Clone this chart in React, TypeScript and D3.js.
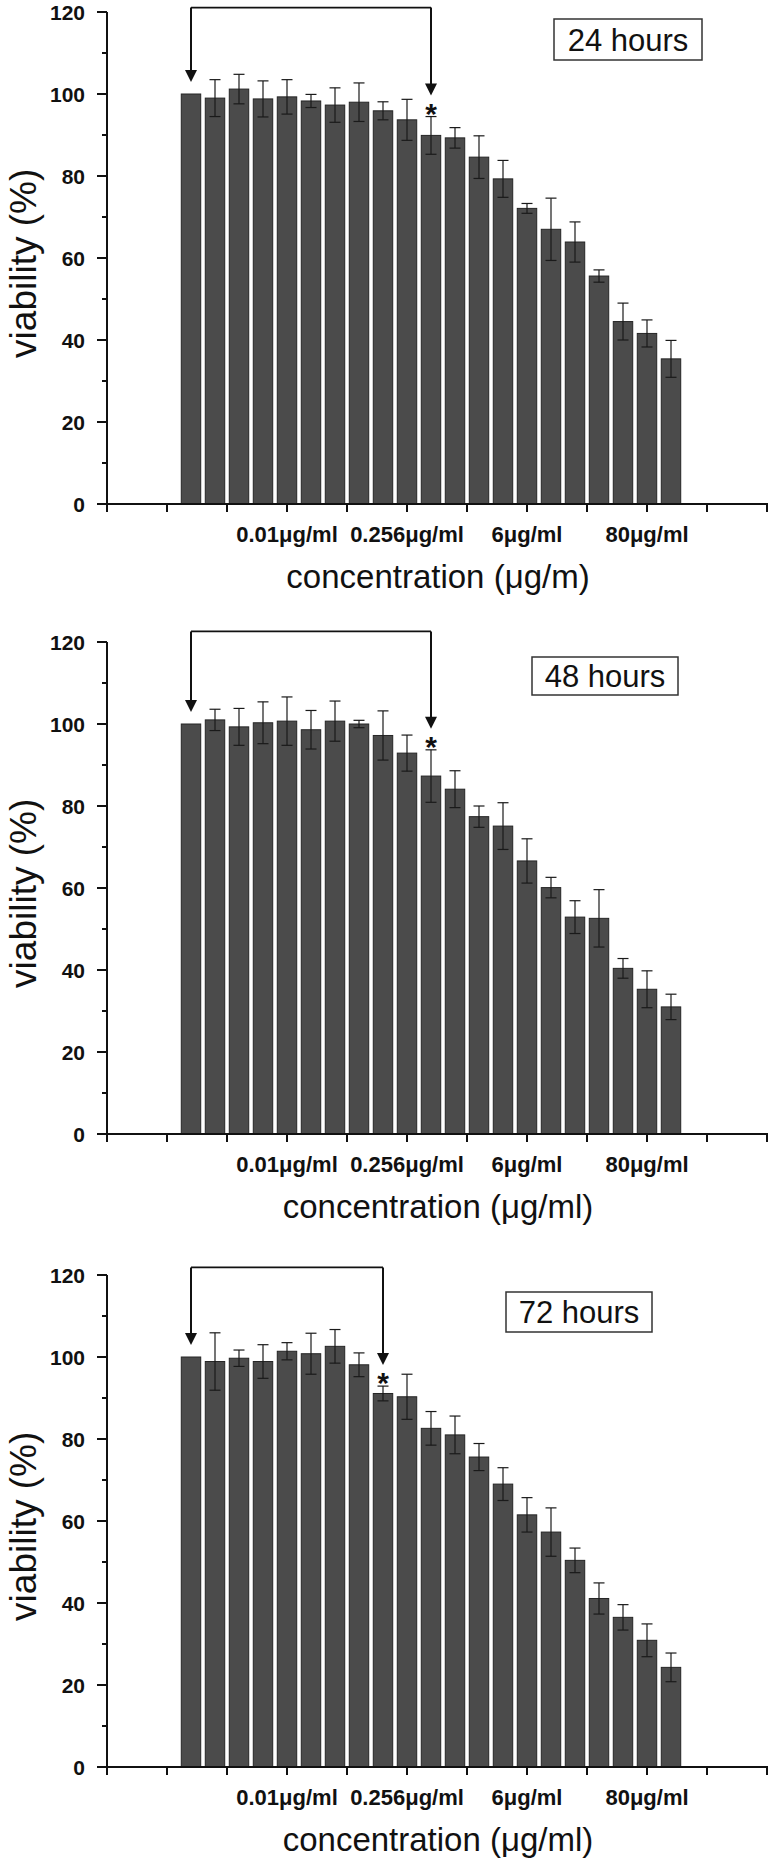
import React from 'react';
import * as d3 from 'd3';

// ---------- DATA ----------
const CATEGORIES = ['1','2','3','4','5','6','7','8','9','10','11','12','13','14','15','16','17','18','19','20','21'];

const VIABILITY_24 = [100, 99.0, 101.2, 98.8, 99.3, 98.3, 97.3, 98.0, 95.9, 93.7, 89.9, 89.3, 84.6, 79.3, 72.1, 67.0, 63.9, 55.6, 44.5, 41.6, 35.4];
const ERR_24 = [0, 4.5, 3.6, 4.4, 4.2, 1.6, 4.2, 4.7, 2.2, 5.0, 4.6, 2.5, 5.2, 4.5, 1.2, 7.6, 4.9, 1.5, 4.5, 3.3, 4.5];

const VIABILITY_48 = [100, 101.0, 99.3, 100.3, 100.7, 98.6, 100.7, 100.0, 97.2, 92.9, 87.3, 84.1, 77.4, 75.1, 66.6, 60.1, 52.9, 52.6, 40.4, 35.3, 31.0];
const ERR_48 = [0, 2.6, 4.5, 5.1, 5.9, 4.7, 4.9, 0.9, 6.0, 4.4, 6.4, 4.5, 2.6, 5.7, 5.4, 2.5, 4.0, 7.0, 2.4, 4.5, 3.1];

const VIABILITY_72 = [100, 98.9, 99.7, 98.9, 101.4, 100.8, 102.6, 98.1, 91.1, 90.3, 82.6, 81.0, 75.6, 69.0, 61.5, 57.3, 50.4, 41.1, 36.5, 30.9, 24.3];
const ERR_72 = [0, 7.0, 2.0, 4.1, 2.1, 5.0, 4.1, 2.9, 1.8, 5.5, 4.1, 4.6, 3.3, 4.0, 4.2, 5.9, 3.0, 3.8, 3.1, 4.0, 3.5];

const Y_TICKS_MAJOR = [0, 20, 40, 60, 80, 100, 120];
const Y_TICKS_MINOR = [10, 30, 50, 70, 90, 110];
const X_TICKS = [0, 1, 2, 3, 4, 5, 6, 7, 8, 9, 10, 11];
const X_LABEL_POS = [3, 5, 7, 9];
const X_LABEL_TEXT = ['0.01μg/ml', '0.256μg/ml', '6μg/ml', '80μg/ml'];

const PANEL_TITLES = ['24 hours', '48 hours', '72 hours'];
const X_TITLES = ['concentration (μg/m)', 'concentration (μg/ml)', 'concentration (μg/ml)'];
const SIG_INDEX = [10, 10, 8];

// ---------- LAYOUT ----------
const W = 774;
const H = 1861;
const AXIS_X = 107;
const AXIS_H = 492;
const PANELS = [
  { y0: 504, values: VIABILITY_24, errs: ERR_24, bracketDy: -4.4, box: { x: 554, y: 19, w: 148, h: 41 } },
  { y0: 1134, values: VIABILITY_48, errs: ERR_48, bracketDy: -10.6, box: { x: 532, y: 657, w: 146, h: 38 } },
  { y0: 1767, values: VIABILITY_72, errs: ERR_72, bracketDy: -7.6, box: { x: 506, y: 1292, w: 146, h: 40 } },
];

const FONT = 'Liberation Sans, Arial, Helvetica, sans-serif';
const BAR_FILL = '#4b4b4b';
const BAR_STROKE = '#262626';
const INK = '#111';

function Panel({ idx }: { idx: number }) {
  const p = PANELS[idx];
  const y = d3.scaleLinear().domain([0, 120]).range([p.y0, p.y0 - AXIS_H]);
  const xAxis = d3.scaleLinear().domain([0, 11]).range([AXIS_X, AXIS_X + 660]);
  const band = d3
    .scaleBand<string>()
    .domain(CATEGORIES)
    .range([xAxis(1.2), xAxis(9.6)])
    .paddingInner(0.19)
    .paddingOuter(0.095);
  const bw = band.bandwidth();
  const cx = (i: number) => (band(CATEGORIES[i]) as number) + bw / 2;

  const sig = SIG_INDEX[idx];
  const xl = cx(0);
  const xr = cx(sig);
  const lineY = y(120) + p.bracketDy;
  const tipL = y(p.values[0]) - 12;
  const errTopSig = y(p.values[sig] + p.errs[sig]);
  const tipR = errTopSig - 21;
  const ah = 12;
  const aw = 6;

  return (
    <g>
      {p.values.map((v, i) => (
        <rect
          key={'b' + i}
          x={band(CATEGORIES[i])}
          y={y(v)}
          width={bw}
          height={y(0) - y(v)}
          fill={BAR_FILL}
          stroke={BAR_STROKE}
          strokeWidth={1}
        />
      ))}
      {p.values.map((v, i) => {
        const e = p.errs[i];
        if (!e) return null;
        const x = cx(i);
        const t = y(v + e);
        const b = y(v - e);
        return (
          <g key={'e' + i} stroke="#1a1a1a" strokeWidth={1.2}>
            <line x1={x} x2={x} y1={t} y2={b} />
            <line x1={x - 5.5} x2={x + 5.5} y1={t} y2={t} />
            <line x1={x - 5.5} x2={x + 5.5} y1={b} y2={b} />
          </g>
        );
      })}
      <line x1={AXIS_X} x2={AXIS_X} y1={y(0) + 1} y2={y(120)} stroke={INK} strokeWidth={2} />
      {Y_TICKS_MAJOR.map((t) => (
        <g key={'ym' + t}>
          <line x1={AXIS_X - 10} x2={AXIS_X} y1={y(t)} y2={y(t)} stroke={INK} strokeWidth={2} />
          <text
            x={AXIS_X - 22}
            y={y(t)}
            dy="0.36em"
            textAnchor="end"
            fontFamily={FONT}
            fontWeight="bold"
            fontSize={21}
            fill={INK}
          >
            {t}
          </text>
        </g>
      ))}
      {Y_TICKS_MINOR.map((t) => (
        <line key={'yn' + t} x1={AXIS_X - 5} x2={AXIS_X} y1={y(t)} y2={y(t)} stroke={INK} strokeWidth={2} />
      ))}
      <line x1={AXIS_X - 1} x2={xAxis(11) + 1} y1={y(0)} y2={y(0)} stroke={INK} strokeWidth={2} />
      {X_TICKS.map((t) => (
        <line key={'xt' + t} x1={xAxis(t)} x2={xAxis(t)} y1={y(0)} y2={y(0) + 8} stroke={INK} strokeWidth={2} />
      ))}
      {X_LABEL_POS.map((pos, i) => (
        <text
          key={'xl' + i}
          x={xAxis(pos)}
          y={y(0) + 38}
          textAnchor="middle"
          fontFamily={FONT}
          fontWeight="bold"
          fontSize={22}
          fill={INK}
        >
          {X_LABEL_TEXT[i]}
        </text>
      ))}
      <text
        x={438}
        y={y(0) + 84}
        textAnchor="middle"
        fontFamily={FONT}
        fontSize={33}
        fill={INK}
      >
        {X_TITLES[idx]}
      </text>
      <text
        transform={`translate(36,${y(58.7)}) rotate(-90)`}
        textAnchor="middle"
        fontFamily={FONT}
        fontSize={37}
        fill={INK}
      >
        viability (%)
      </text>
      <line x1={xl} x2={xr} y1={lineY} y2={lineY} stroke={INK} strokeWidth={1.6} />
      <line x1={xl} x2={xl} y1={lineY} y2={tipL - ah + 1} stroke={INK} strokeWidth={2} />
      <line x1={xr} x2={xr} y1={lineY} y2={tipR - ah + 1} stroke={INK} strokeWidth={2} />
      <polygon points={`${xl - aw},${tipL - ah} ${xl + aw},${tipL - ah} ${xl},${tipL}`} fill={INK} />
      <polygon points={`${xr - aw},${tipR - ah} ${xr + aw},${tipR - ah} ${xr},${tipR}`} fill={INK} />
      <text
        x={xr}
        y={errTopSig - 10 + 17}
        textAnchor="middle"
        fontFamily={FONT}
        fontWeight="bold"
        fontSize={30}
        fill={INK}
      >
        *
      </text>
      <rect x={p.box.x} y={p.box.y} width={p.box.w} height={p.box.h} fill="#fff" stroke="#333" strokeWidth={1.5} />
      <text
        x={p.box.x + p.box.w / 2}
        y={p.box.y + p.box.h / 2}
        dy="0.36em"
        textAnchor="middle"
        fontFamily={FONT}
        fontSize={31}
        fill={INK}
      >
        {PANEL_TITLES[idx]}
      </text>
    </g>
  );
}

export default function App() {
  return (
    <svg
      width={W}
      height={H}
      viewBox={`0 0 ${W} ${H}`}
      style={{ position: 'absolute', left: 0, top: 0, background: '#fff' }}
    >
      <rect width={W} height={H} fill="#fff" />
      {PANELS.map((_, i) => (
        <Panel key={i} idx={i} />
      ))}
    </svg>
  );
}
